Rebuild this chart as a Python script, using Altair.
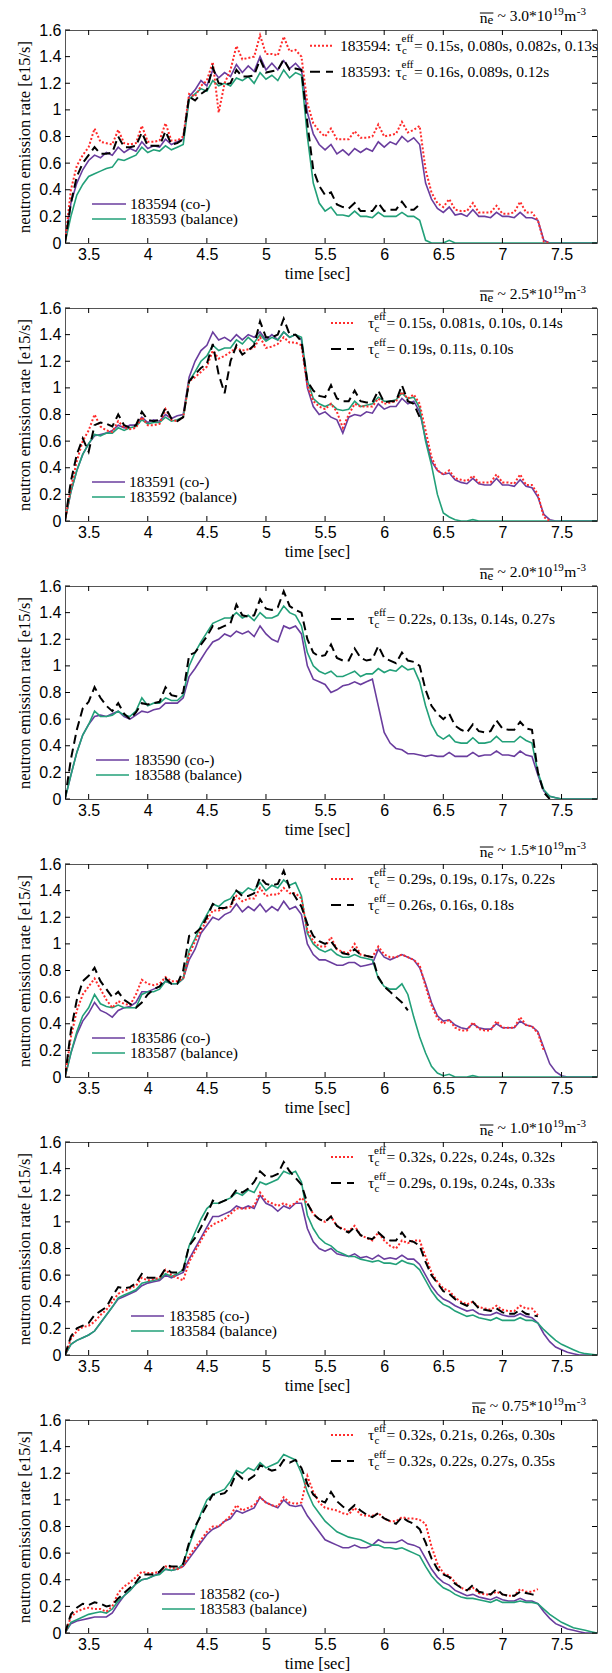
import altair as alt
import pandas as pd

N = None
T = [round(3.30 + 0.05 * i, 2) for i in range(91)]
XTICKS = [3.5, 4, 4.5, 5, 5.5, 6, 6.5, 7, 7.5]
YTICKS = [0, 0.2, 0.4, 0.6, 0.8, 1.0, 1.2, 1.4, 1.6]

# ---------------- panel 1 (ne ~ 3.0) ----------------
P1_CO = [0, 0.30, 0.45, 0.55, 0.62, 0.66, 0.64, 0.68, 0.66, 0.72,
         0.68, 0.71, 0.69, 0.76, 0.71, 0.73, 0.72, 0.78, 0.74, 0.76,
         0.78, 1.10, 1.15, 1.22, 1.18, 1.30, 1.24, 1.28, 1.25, 1.34,
         1.28, 1.33, 1.29, 1.40, 1.30, 1.35, 1.30, 1.37, 1.31, 1.35,
         1.30, 0.98, 0.82, 0.74, 0.70, 0.74, 0.67, 0.70, 0.66, 0.71,
         0.68, 0.71, 0.69, 0.76, 0.72, 0.76, 0.74, 0.80, 0.76, 0.79,
         0.74, 0.45, 0.33, 0.26, 0.23, 0.27, 0.21, 0.22, 0.20, 0.25,
         0.20, 0.20, 0.19, 0.23, 0.20, 0.20, 0.19, 0.23, 0.19, 0.19,
         0.17, 0.02, 0, 0, 0, 0, 0, 0, 0, 0, 0]
P1_BAL = [0, 0.20, 0.36, 0.44, 0.50, 0.52, 0.54, 0.56, 0.57, 0.63,
          0.62, 0.64, 0.66, 0.72, 0.68, 0.70, 0.69, 0.73, 0.70, 0.72,
          0.74, 1.08, 1.12, 1.16, 1.14, 1.22, 1.18, 1.20, 1.18, 1.24,
          1.22, 1.25, 1.20, 1.28, 1.23, 1.26, 1.22, 1.30, 1.24, 1.28,
          1.26, 0.80, 0.45, 0.30, 0.24, 0.27, 0.21, 0.21, 0.20, 0.24,
          0.20, 0.20, 0.19, 0.23, 0.20, 0.20, 0.20, 0.23, 0.20, 0.20,
          0.17, 0.02, 0, 0, 0, 0.02, 0, 0, 0, 0,
          0, 0, 0, 0, 0, 0, 0, 0, 0, 0,
          0, 0, 0, 0, 0, 0, 0, 0, 0, 0, 0]
P1_RED = [0, 0.40, 0.58, 0.66, 0.72, 0.86, 0.76, 0.75, 0.74, 0.85,
          0.75, 0.74, 0.75, 0.88, 0.76, 0.76, 0.77, 0.90, 0.77, 0.77,
          0.80, 1.12, 1.10, 1.18, 1.22, 1.36, 0.98, 1.20, 1.30, 1.48,
          1.38, 1.39, 1.40, 1.56, 1.42, 1.42, 1.41, 1.55, 1.44, 1.45,
          1.40, 1.05, 0.90, 0.84, 0.80, 0.86, 0.78, 0.78, 0.78, 0.84,
          0.79, 0.79, 0.80, 0.89, 0.80, 0.81, 0.82, 0.91, 0.83, 0.85,
          0.88, 0.55, 0.38, 0.30, 0.27, 0.33, 0.25, 0.24, 0.24, 0.30,
          0.23, 0.23, 0.23, 0.28, 0.22, 0.22, 0.23, 0.31, 0.23, 0.23,
          0.17, 0.01, 0, N, N, N, N, N, N, N, N]
P1_BLK = [0, 0.30, 0.50, 0.60, 0.66, 0.72, 0.67, 0.67, 0.68, 0.80,
          0.72, 0.72, 0.73, 0.83, 0.73, 0.73, 0.73, 0.84, 0.74, 0.75,
          0.78, 1.10, 1.07, 1.12, 1.15, 1.32, 1.20, 1.19, 1.20, 1.30,
          1.25, 1.25, 1.26, 1.38, 1.28, 1.29, 1.30, 1.38, 1.30, 1.31,
          1.30, 0.90, 0.55, 0.43, 0.36, 0.38, 0.29, 0.27, 0.26, 0.30,
          0.24, 0.24, 0.24, 0.30, 0.24, 0.25, 0.25, 0.31, 0.25, 0.25,
          0.29, N, N, N, N, N, N, N, N, N,
          N, N, N, N, N, N, N, N, N, N,
          N, N, N, N, N, N, N, N, N, N, N]

# ---------------- panel 2 (ne ~ 2.5) ----------------
P2_CO = [0, 0.22, 0.38, 0.50, 0.58, 0.64, 0.65, 0.66, 0.68, 0.72,
         0.70, 0.72, 0.72, 0.78, 0.74, 0.76, 0.75, 0.80, 0.77, 0.79,
         0.80, 1.08, 1.20, 1.28, 1.32, 1.42, 1.36, 1.38, 1.35, 1.40,
         1.36, 1.40, 1.38, 1.42, 1.36, 1.40, 1.36, 1.42, 1.38, 1.40,
         1.36, 1.00, 0.86, 0.80, 0.82, 0.78, 0.76, 0.66, 0.78, 0.80,
         0.79, 0.82, 0.81, 0.88, 0.84, 0.86, 0.86, 0.92, 0.88, 0.90,
         0.82, 0.62, 0.45, 0.38, 0.35, 0.36, 0.31, 0.29, 0.28, 0.32,
         0.28, 0.27, 0.27, 0.32, 0.27, 0.27, 0.26, 0.31, 0.26, 0.25,
         0.18, 0.05, 0.01, 0, 0, 0, 0, 0, 0, 0, 0]
P2_BAL = [0, 0.22, 0.38, 0.50, 0.58, 0.65, 0.64, 0.66, 0.66, 0.70,
          0.68, 0.70, 0.71, 0.76, 0.73, 0.74, 0.74, 0.78, 0.75, 0.76,
          0.78, 1.05, 1.12, 1.20, 1.24, 1.32, 1.28, 1.30, 1.30, 1.36,
          1.33, 1.38, 1.34, 1.40, 1.35, 1.38, 1.36, 1.42, 1.38, 1.40,
          1.38, 1.06, 0.92, 0.88, 0.86, 0.88, 0.84, 0.83, 0.84, 0.90,
          0.86, 0.87, 0.88, 0.93, 0.90, 0.90, 0.91, 0.96, 0.92, 0.93,
          0.85, 0.60, 0.42, 0.20, 0.06, 0.03, 0.01, 0, 0, 0.01,
          0, 0, 0, 0, 0, 0, 0, 0, 0, 0,
          0, 0, 0, 0, 0, 0, 0, 0, 0, 0, 0]
P2_RED = [0, 0.25, 0.45, 0.60, 0.68, 0.80, 0.71, 0.68, 0.67, 0.75,
          0.70, 0.69, 0.70, 0.78, 0.72, 0.72, 0.73, 0.84, 0.76, 0.75,
          0.78, 1.05, 1.08, 1.12, 1.16, 1.28, 1.22, 1.24, 1.27, 1.30,
          1.28, 1.29, 1.30, 1.38, 1.30, 1.31, 1.33, 1.38, 1.34, 1.34,
          1.32, 1.02, 0.90, 0.86, 0.84, 0.88, 0.82, 0.70, 0.80, 0.88,
          0.86, 0.86, 0.86, 0.92, 0.88, 0.89, 0.90, 0.97, 0.92, 0.95,
          0.88, 0.68, 0.48, 0.38, 0.35, 0.38, 0.32, 0.31, 0.30, 0.34,
          0.29, 0.29, 0.29, 0.35, 0.29, 0.29, 0.28, 0.35, 0.27, 0.27,
          0.20, 0.03, 0, N, N, N, N, N, N, N, N]
P2_BLK = [0, 0.30, 0.50, 0.62, 0.52, 0.72, 0.74, 0.73, 0.71, 0.80,
          0.72, 0.70, 0.72, 0.82, 0.76, 0.75, 0.76, 0.85, 0.77, 0.75,
          0.78, 1.05, 1.10, 1.15, 1.18, 1.33, 1.10, 0.96, 1.20, 1.32,
          1.25, 1.28, 1.32, 1.50, 1.38, 1.38, 1.40, 1.52, 1.40, 1.40,
          1.35, 1.05, 0.98, 0.94, 0.93, 1.02, 0.92, 0.90, 0.90, 0.98,
          0.90, 0.89, 0.89, 0.98, 0.89, 0.90, 0.90, 1.02, 0.90, 0.88,
          0.78, N, N, N, N, N, N, N, N, N,
          N, N, N, N, N, N, N, N, N, N,
          N, N, N, N, N, N, N, N, N, N, N]

# ---------------- panel 3 (ne ~ 2.0) ----------------
P3_CO = [0, 0.18, 0.35, 0.48, 0.56, 0.62, 0.63, 0.62, 0.64, 0.66,
         0.62, 0.60, 0.63, 0.66, 0.65, 0.67, 0.68, 0.72, 0.72, 0.72,
         0.76, 0.92, 0.98, 1.05, 1.12, 1.18, 1.20, 1.24, 1.22, 1.26,
         1.24, 1.26, 1.22, 1.30, 1.24, 1.20, 1.18, 1.30, 1.28, 1.30,
         1.24, 1.00, 0.90, 0.88, 0.86, 0.80, 0.82, 0.85, 0.86, 0.88,
         0.86, 0.88, 0.90, 0.70, 0.50, 0.42, 0.38, 0.37, 0.34, 0.34,
         0.33, 0.32, 0.33, 0.32, 0.32, 0.35, 0.32, 0.32, 0.32, 0.35,
         0.32, 0.33, 0.33, 0.36, 0.33, 0.33, 0.32, 0.36, 0.33, 0.32,
         0.18, 0.06, 0.02, 0.01, 0, 0, 0, 0, 0, 0, 0]
P3_BAL = [0, 0.18, 0.35, 0.48, 0.56, 0.66, 0.62, 0.62, 0.63, 0.66,
          0.63, 0.62, 0.66, 0.76, 0.70, 0.72, 0.72, 0.76, 0.74, 0.74,
          0.78, 1.00, 1.10, 1.18, 1.25, 1.32, 1.34, 1.36, 1.36, 1.40,
          1.36, 1.38, 1.34, 1.40, 1.36, 1.36, 1.38, 1.45, 1.40, 1.38,
          1.30, 1.10, 1.00, 0.96, 0.94, 0.96, 0.92, 0.92, 0.94, 0.96,
          0.92, 0.94, 0.94, 0.98, 0.95, 0.97, 0.96, 1.00, 0.97, 0.98,
          0.88, 0.70, 0.56, 0.48, 0.45, 0.48, 0.43, 0.42, 0.42, 0.46,
          0.42, 0.42, 0.43, 0.47, 0.43, 0.43, 0.43, 0.47, 0.44, 0.42,
          0.20, 0.07, 0.02, 0.01, 0, 0, 0, 0, 0, 0, 0]
P3_BLK = [0, 0.30, 0.52, 0.68, 0.73, 0.84, 0.76, 0.70, 0.66, 0.72,
          0.64, 0.60, 0.65, 0.72, 0.71, 0.72, 0.73, 0.84, 0.78, 0.77,
          0.80, 1.08, 1.10, 1.16, 1.22, 1.30, 1.28, 1.30, 1.32, 1.46,
          1.38, 1.37, 1.38, 1.50, 1.43, 1.42, 1.44, 1.56, 1.45, 1.42,
          1.40, 1.20, 1.10, 1.07, 1.08, 1.16, 1.06, 1.04, 1.04, 1.13,
          1.06, 1.04, 1.05, 1.15, 1.06, 1.04, 1.02, 1.10, 1.04, 1.03,
          1.00, 0.82, 0.70, 0.64, 0.60, 0.64, 0.55, 0.52, 0.50, 0.56,
          0.51, 0.50, 0.51, 0.59, 0.53, 0.52, 0.52, 0.58, 0.53, 0.52,
          0.20, 0.05, 0, N, N, N, N, N, N, N, N]

# ---------------- panel 4 (ne ~ 1.5) ----------------
P4_CO = [0, 0.18, 0.32, 0.42, 0.48, 0.56, 0.50, 0.48, 0.45, 0.50,
         0.52, 0.53, 0.56, 0.64, 0.64, 0.66, 0.68, 0.72, 0.70, 0.70,
         0.74, 0.88, 0.96, 1.08, 1.14, 1.20, 1.18, 1.22, 1.24, 1.30,
         1.24, 1.28, 1.25, 1.30, 1.24, 1.28, 1.25, 1.32, 1.26, 1.28,
         1.22, 1.00, 0.92, 0.88, 0.88, 0.86, 0.84, 0.84, 0.86, 0.86,
         0.83, 0.84, 0.85, 0.96, 0.90, 0.88, 0.90, 0.92, 0.90, 0.88,
         0.82, 0.70, 0.56, 0.46, 0.42, 0.43, 0.39, 0.37, 0.36, 0.40,
         0.37, 0.36, 0.36, 0.40, 0.37, 0.37, 0.37, 0.42, 0.39, 0.38,
         0.34, 0.22, 0.10, 0.04, 0.01, 0, 0, 0, 0, 0, 0]
P4_BAL = [0, 0.18, 0.34, 0.46, 0.52, 0.62, 0.55, 0.53, 0.52, 0.54,
          0.52, 0.52, 0.52, 0.62, 0.64, 0.64, 0.66, 0.72, 0.70, 0.70,
          0.74, 0.95, 1.04, 1.14, 1.22, 1.30, 1.28, 1.32, 1.34, 1.40,
          1.38, 1.42, 1.40, 1.46, 1.40, 1.44, 1.42, 1.48, 1.44, 1.46,
          1.36, 1.08, 1.00, 0.96, 0.94, 0.96, 0.92, 0.90, 0.90, 0.92,
          0.90, 0.89, 0.88, 0.74, 0.68, 0.66, 0.66, 0.70, 0.62, 0.45,
          0.30, 0.18, 0.08, 0.03, 0.01, 0.02, 0, 0, 0, 0.01,
          0, 0, 0, 0, 0, 0, 0, 0, 0, 0,
          0, 0, 0, 0, 0, 0, 0, 0, 0, 0, 0]
P4_RED = [0, 0.30, 0.50, 0.62, 0.68, 0.74, 0.66, 0.58, 0.52, 0.57,
          0.55, 0.54, 0.62, 0.73, 0.70, 0.69, 0.70, 0.75, 0.72, 0.72,
          0.74, 0.92, 1.02, 1.10, 1.18, 1.25, 1.25, 1.27, 1.28, 1.36,
          1.32, 1.34, 1.34, 1.42, 1.36, 1.37, 1.37, 1.42, 1.38, 1.38,
          1.34, 1.10, 1.02, 0.98, 0.98, 1.05, 0.96, 0.94, 0.93, 1.00,
          0.92, 0.91, 0.90, 0.98, 0.92, 0.90, 0.90, 0.92, 0.90, 0.88,
          0.84, 0.68, 0.54, 0.44, 0.40, 0.43, 0.37, 0.35, 0.35, 0.41,
          0.36, 0.35, 0.35, 0.42, 0.37, 0.37, 0.37, 0.45, 0.39, 0.38,
          0.33, 0.20, N, N, N, N, N, N, N, N, N]
P4_BLK = [0, 0.35, 0.58, 0.72, 0.76, 0.82, 0.72, 0.66, 0.60, 0.64,
          0.58, 0.55, 0.52, 0.56, 0.62, 0.66, 0.68, 0.74, 0.70, 0.70,
          0.80, 1.06, 1.08, 1.12, 1.20, 1.30, 1.27, 1.27, 1.28, 1.40,
          1.36, 1.36, 1.38, 1.50, 1.45, 1.44, 1.45, 1.55, 1.42, 1.35,
          1.28, 1.15, 1.06, 1.02, 1.00, 1.02, 0.96, 0.93, 0.92, 0.96,
          0.92, 0.91, 0.90, 0.75, 0.68, 0.64, 0.60, 0.56, 0.50, N,
          N, N, N, N, N, N, N, N, N, N,
          N, N, N, N, N, N, N, N, N, N,
          N, N, N, N, N, N, N, N, N, N, N]

# ---------------- panel 5 (ne ~ 1.0) ----------------
P5_CO = [0, 0.08, 0.11, 0.13, 0.15, 0.18, 0.24, 0.30, 0.36, 0.42,
         0.44, 0.46, 0.48, 0.52, 0.54, 0.55, 0.56, 0.60, 0.58, 0.60,
         0.62, 0.72, 0.80, 0.88, 0.96, 1.04, 1.04, 1.06, 1.08, 1.12,
         1.10, 1.12, 1.10, 1.20, 1.14, 1.12, 1.08, 1.12, 1.10, 1.14,
         1.14, 0.95, 0.85, 0.80, 0.78, 0.80, 0.76, 0.75, 0.74, 0.76,
         0.73, 0.74, 0.72, 0.75, 0.72, 0.73, 0.72, 0.75, 0.72, 0.72,
         0.68, 0.60, 0.52, 0.46, 0.42, 0.40, 0.37, 0.35, 0.33, 0.34,
         0.31, 0.30, 0.30, 0.32, 0.30, 0.29, 0.29, 0.31, 0.29, 0.28,
         0.24, 0.16, 0.10, 0.06, 0.04, 0.02, 0.01, 0, 0, 0, 0]
P5_BAL = [0, 0.08, 0.11, 0.13, 0.15, 0.18, 0.24, 0.30, 0.36, 0.43,
          0.45, 0.47, 0.49, 0.54, 0.55, 0.56, 0.57, 0.61, 0.59, 0.61,
          0.64, 0.82, 0.92, 1.02, 1.10, 1.14, 1.14, 1.16, 1.18, 1.22,
          1.20, 1.24, 1.22, 1.30, 1.28, 1.30, 1.32, 1.38, 1.36, 1.38,
          1.30, 1.05, 0.95, 0.88, 0.84, 0.82, 0.78, 0.76, 0.74, 0.74,
          0.72, 0.71, 0.70, 0.71, 0.69, 0.69, 0.68, 0.71, 0.69, 0.68,
          0.64, 0.56, 0.48, 0.42, 0.38, 0.36, 0.33, 0.31, 0.29, 0.30,
          0.28, 0.27, 0.26, 0.28, 0.26, 0.26, 0.26, 0.28, 0.26, 0.26,
          0.24, 0.19, 0.15, 0.11, 0.08, 0.06, 0.04, 0.02, 0.01, 0.005, 0]
P5_RED = [0, 0.12, 0.18, 0.21, 0.22, 0.25, 0.30, 0.34, 0.40, 0.46,
          0.48, 0.50, 0.52, 0.58, 0.56, 0.57, 0.58, 0.64, 0.60, 0.58,
          0.56, 0.70, 0.78, 0.86, 0.94, 0.98, 1.00, 1.02, 1.06, 1.10,
          1.10, 1.10, 1.12, 1.22, 1.16, 1.14, 1.12, 1.14, 1.12, 1.14,
          1.18, 1.14, 1.06, 1.02, 1.00, 1.04, 0.97, 0.95, 0.93, 0.97,
          0.90, 0.88, 0.86, 0.92, 0.86, 0.82, 0.80, 0.86, 0.84, 0.86,
          0.86, 0.74, 0.62, 0.55, 0.50, 0.48, 0.43, 0.40, 0.38, 0.40,
          0.36, 0.35, 0.34, 0.37, 0.34, 0.33, 0.33, 0.37, 0.35, 0.35,
          0.30, N, N, N, N, N, N, N, N, N, N]
P5_BLK = [0, 0.14, 0.20, 0.22, 0.24, 0.30, 0.33, 0.36, 0.44, 0.51,
          0.50, 0.51, 0.54, 0.61, 0.58, 0.58, 0.58, 0.65, 0.62, 0.62,
          0.64, 0.82, 0.88, 0.96, 1.05, 1.16, 1.14, 1.16, 1.18, 1.24,
          1.22, 1.25, 1.30, 1.38, 1.34, 1.34, 1.36, 1.45, 1.38, 1.33,
          1.28, 1.14, 1.06, 1.02, 1.00, 1.04, 0.97, 0.94, 0.92, 0.96,
          0.90, 0.88, 0.87, 0.92, 0.88, 0.86, 0.86, 0.92, 0.86, 0.85,
          0.82, 0.70, 0.60, 0.54, 0.48, 0.46, 0.42, 0.39, 0.37, 0.40,
          0.35, 0.34, 0.33, 0.35, 0.32, 0.31, 0.31, 0.34, 0.31, 0.30,
          0.29, N, N, N, N, N, N, N, N, N, N]

# ---------------- panel 6 (ne ~ 0.75) ----------------
P6_CO = [0, 0.07, 0.09, 0.10, 0.11, 0.12, 0.12, 0.12, 0.15, 0.22,
         0.28, 0.32, 0.37, 0.40, 0.41, 0.43, 0.45, 0.48, 0.47, 0.48,
         0.50, 0.56, 0.62, 0.68, 0.74, 0.78, 0.80, 0.84, 0.86, 0.92,
         0.90, 0.92, 0.94, 1.02, 0.98, 0.96, 0.94, 1.00, 0.96, 0.95,
         0.96, 0.88, 0.82, 0.76, 0.70, 0.68, 0.66, 0.64, 0.64, 0.66,
         0.64, 0.64, 0.66, 0.70, 0.68, 0.68, 0.68, 0.70, 0.67, 0.66,
         0.64, 0.56, 0.48, 0.42, 0.38, 0.36, 0.32, 0.30, 0.28, 0.29,
         0.27, 0.26, 0.25, 0.27, 0.25, 0.24, 0.24, 0.26, 0.24, 0.24,
         0.22, 0.16, 0.11, 0.07, 0.05, 0.03, 0.02, 0.01, 0, 0, 0]
P6_BAL = [0, 0.08, 0.10, 0.12, 0.14, 0.15, 0.16, 0.15, 0.18, 0.24,
          0.28, 0.32, 0.37, 0.40, 0.41, 0.43, 0.44, 0.48, 0.47, 0.48,
          0.52, 0.66, 0.78, 0.90, 1.00, 1.04, 1.06, 1.08, 1.14, 1.22,
          1.20, 1.24, 1.22, 1.28, 1.24, 1.26, 1.28, 1.34, 1.32, 1.30,
          1.20, 1.06, 0.96, 0.90, 0.84, 0.80, 0.76, 0.74, 0.72, 0.71,
          0.70, 0.68, 0.66, 0.66, 0.64, 0.64, 0.63, 0.64, 0.62, 0.60,
          0.58, 0.50, 0.43, 0.38, 0.34, 0.32, 0.29, 0.27, 0.26, 0.26,
          0.25, 0.24, 0.23, 0.25, 0.23, 0.23, 0.23, 0.24, 0.23, 0.23,
          0.22, 0.18, 0.14, 0.11, 0.08, 0.06, 0.04, 0.03, 0.02, 0.01, 0]
P6_RED = [0, 0.12, 0.16, 0.18, 0.19, 0.18, 0.18, 0.16, 0.20, 0.30,
          0.35, 0.38, 0.42, 0.46, 0.45, 0.45, 0.46, 0.50, 0.49, 0.48,
          0.50, 0.58, 0.64, 0.70, 0.76, 0.80, 0.80, 0.84, 0.88, 0.96,
          0.92, 0.94, 0.96, 1.02, 0.98, 0.96, 0.95, 1.02, 0.98, 0.97,
          0.98, 1.18, 1.06, 0.98, 0.94, 0.93, 0.92, 0.90, 0.89, 0.94,
          0.89, 0.88, 0.88, 0.90, 0.86, 0.84, 0.84, 0.87, 0.86, 0.86,
          0.85, 0.82, 0.65, 0.52, 0.45, 0.43, 0.38, 0.34, 0.32, 0.34,
          0.30, 0.29, 0.29, 0.31, 0.29, 0.28, 0.28, 0.33, 0.31, 0.31,
          0.33, N, N, N, N, N, N, N, N, N, N]
P6_BLK = [0, 0.14, 0.19, 0.22, 0.21, 0.23, 0.22, 0.20, 0.21, 0.26,
          0.30, 0.34, 0.38, 0.44, 0.44, 0.44, 0.46, 0.51, 0.50, 0.50,
          0.52, 0.68, 0.80, 0.88, 0.96, 1.04, 1.04, 1.05, 1.10, 1.20,
          1.16, 1.15, 1.18, 1.26, 1.24, 1.22, 1.23, 1.30, 1.28, 1.30,
          1.24, 1.12, 1.04, 1.00, 0.98, 1.06, 0.99, 0.95, 0.92, 0.96,
          0.92, 0.89, 0.87, 0.90, 0.86, 0.84, 0.82, 0.87, 0.84, 0.82,
          0.78, 0.68, 0.56, 0.48, 0.44, 0.42, 0.37, 0.34, 0.32, 0.36,
          0.31, 0.30, 0.29, 0.33, 0.29, 0.28, 0.28, 0.31, 0.30, 0.29,
          0.28, N, N, N, N, N, N, N, N, N, N]

NE = ["3.0", "2.5", "2.0", "1.5", "1.0", "0.75"]
SHOT_CO = ["183594", "183591", "183590", "183586", "183585", "183582"]
SHOT_BAL = ["183593", "183592", "183588", "183587", "183584", "183583"]
TAU_RED = ["0.15s, 0.080s, 0.082s, 0.13s", "0.15s, 0.081s, 0.10s, 0.14s", None,
           "0.29s, 0.19s, 0.17s, 0.22s", "0.32s, 0.22s, 0.24s, 0.32s",
           "0.32s, 0.21s, 0.26s, 0.30s"]
TAU_BLK = ["0.16s, 0.089s, 0.12s", "0.19s, 0.11s, 0.10s",
           "0.22s, 0.13s, 0.14s, 0.27s", "0.26s, 0.16s, 0.18s",
           "0.29s, 0.19s, 0.24s, 0.33s", "0.32s, 0.22s, 0.27s, 0.35s"]

SERIES = [
    (P1_CO, P1_BAL, P1_RED, P1_BLK),
    (P2_CO, P2_BAL, P2_RED, P2_BLK),
    (P3_CO, P3_BAL, None, P3_BLK),
    (P4_CO, P4_BAL, P4_RED, P4_BLK),
    (P5_CO, P5_BAL, P5_RED, P5_BLK),
    (P6_CO, P6_BAL, P6_RED, P6_BLK),
]
for grp in SERIES:
    for s in grp:
        assert s is None or len(s) == len(T), len(s)

# ---------------- styling ----------------
W, H = 532, 213
SERIF = "Liberation Serif"
SANS = "Liberation Sans"
PURPLE = "#6a3d9e"
GREEN = "#22a079"
RED = "#ff2b2b"
BLACK = "#000000"
FS = 15.5
SUP = 11

# bottom-left legend placement per panel: (line start, line end, text x)
LEG_POS = [(27, 61, 65), (27, 60, 64), (31, 64, 69), (27, 60, 65), (66, 99, 104), (97, 130, 134)]

TW = {'.': 0.25, '*': 0.5, '~': 0.541, ' ': 0.25, 'm': 0.778, '-': 0.333, 'n': 0.5, 'e': 0.444}


def tw(s, size):
    return size * sum(TW.get(ch, 0.5) for ch in s)


XS = alt.X("t:Q", scale=alt.Scale(domain=[3.3, 7.8], nice=False, zero=False),
           axis=alt.Axis(values=XTICKS, format="~g", title="time [sec]", labelPadding=3,
                         titlePadding=3, titleX=252, labelFlush=False))
YS = alt.Y("v:Q", scale=alt.Scale(domain=[0, 1.6], nice=False),
           axis=alt.Axis(values=YTICKS, format="~g", title="neutron emission rate [e15/s]",
                         labelPadding=4, titlePadding=6, labelFlush=False))

ONE = alt.Data(values=[{"a": 0}])


def sdf(vals):
    return pd.DataFrame({"t": [t for t, v in zip(T, vals) if v is not None],
                         "v": [v for v in vals if v is not None]})


def line(vals, color, width, dash=None):
    kw = dict(color=color, strokeWidth=width, clip=True)
    if dash:
        kw["strokeDash"] = dash
    return alt.Chart(sdf(vals)).mark_line(**kw).encode(x=XS, y=YS)


def txt(x, y, s, size=FS, align="left"):
    return alt.Chart(ONE).mark_text(text=s, align=align, baseline="alphabetic", font=SERIF,
                                    fontSize=size, color="black").encode(
        x=alt.value(x), y=alt.value(y))


def seg(x1, x2, y, color, width, dash=None):
    kw = dict(color=color, strokeWidth=width)
    if dash:
        kw["strokeDash"] = dash
    return alt.Chart(ONE).mark_rule(**kw).encode(x=alt.value(x1), x2=alt.value(x2), y=alt.value(y))


def tau_row(xl, xt, yl, color, width, dash, vals, prefix=None, xp=None):
    b = yl + 5
    out = [seg(xl, xl + 23, yl, color, width, dash)]
    if prefix:
        out.append(txt(xp, b, prefix))
    out += [txt(xt, b, "τ"), txt(xt + 6.5, b + 3.5, "c", SUP), txt(xt + 6, b - 8.5, "eff", SUP),
            txt(xt + 18.5, b, "= " + vals)]
    return out


def ne_label(val):
    xr = 521
    x_m3 = xr - tw("-3", SUP)
    x_m = x_m3 - tw("m", FS) - 0.5
    x_19 = x_m - tw("19", SUP) - 0.5
    main = "~ " + val + "*10"
    x_main = x_19 - 0.5 - tw(main, FS)
    x_e = x_main - 4 - tw("e", 13)
    x_n = x_e - tw("n", FS)
    return [txt(x_m3, -15, "-3", SUP), txt(x_m, -9.3, "m"), txt(x_19, -15, "19", SUP),
            txt(x_main, -9.3, main), txt(x_e, -6.3, "e", 13), txt(x_n, -7.5, "n"),
            seg(x_n, x_e + tw("e", 13), -17, "black", 1)]


ydf = pd.DataFrame({"v": YTICKS})
xdf = pd.DataFrame({"t": XTICKS})


def panel(i):
    co, bal, red, blk = SERIES[i]
    layers = [line(co, PURPLE, 1.6), line(bal, GREEN, 1.6)]
    if red is not None:
        layers.append(line(red, RED, 2, [2, 2]))
    layers.append(line(blk, BLACK, 2, [9, 5]))
    # inward ticks on all four sides
    layers += [
        alt.Chart(ydf).mark_rule(color="black").encode(y=YS, x=alt.value(0), x2=alt.value(5)),
        alt.Chart(ydf).mark_rule(color="black").encode(y=YS, x=alt.value(W - 5), x2=alt.value(W)),
        alt.Chart(xdf).mark_rule(color="black").encode(x=XS, y=alt.value(H - 5), y2=alt.value(H)),
        alt.Chart(xdf).mark_rule(color="black").encode(x=XS, y=alt.value(0), y2=alt.value(5)),
    ]
    # measured-shot legend
    x1, x2, xt = LEG_POS[i]
    layers += [seg(x1, x2, 174, PURPLE, 1.5), seg(x1, x2, 189, GREEN, 1.5),
               txt(xt, 179, SHOT_CO[i] + " (co-)"), txt(xt, 194, SHOT_BAL[i] + " (balance)")]
    # model legend
    if i == 0:
        layers += tau_row(245, 330.5, 15.7, RED, 2, [2, 2], TAU_RED[0], SHOT_CO[0] + ":", 275)
        layers += tau_row(245, 330.5, 41.7, BLACK, 2, [10, 6], TAU_BLK[0], SHOT_BAL[0] + ":", 275)
    elif TAU_RED[i] is None:
        layers += tau_row(266, 303, 33, BLACK, 2, [10, 6], TAU_BLK[i])
    else:
        layers += tau_row(266, 303, 15, RED, 2, [2, 2], TAU_RED[i])
        layers += tau_row(266, 303, 41, BLACK, 2, [10, 6], TAU_BLK[i])
    layers += ne_label(NE[i])
    return alt.layer(*layers).properties(width=W, height=H)


chart = alt.vconcat(*[panel(i) for i in range(6)], spacing=65, bounds="flush").properties(
    padding={"left": 16, "top": 5, "right": 5, "bottom": 2},
    background="white",
).configure_view(stroke="#555555", strokeWidth=1).configure_axis(
    grid=False, domain=False, ticks=False, labelFont=SANS, labelFontSize=16, labelColor="black",
    titleFont=SERIF, titleFontSize=16.5, titleFontWeight="normal", titleColor="black",
)

chart.save("out.html", embed_options={"renderer": "svg", "actions": False})
